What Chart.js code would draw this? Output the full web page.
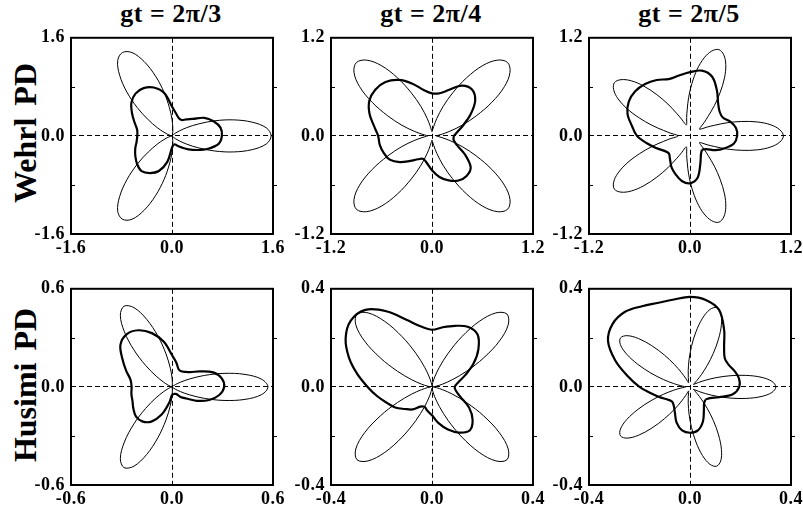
<!DOCTYPE html>
<html>
<head>
<meta charset="utf-8">
<script src="https://cdn.jsdelivr.net/npm/chart.js@4.4.1/dist/chart.umd.min.js"></script>
<style>
  body { margin: 0; background: #fff; }
  #wrap { position: relative; width: 803px; height: 518px; overflow: hidden;
          font-family: "Liberation Serif", "Times New Roman", serif; font-weight: bold; color: #000; }
  #wrap canvas { position: absolute; }
  .title { position: absolute; width: 200px; text-align: center; font-size: 26px;
           letter-spacing: 0.5px; line-height: 30px; white-space: nowrap; }
  .rowlab { position: absolute; font-size: 32px; white-space: nowrap; word-spacing: 4px;
            line-height: 34px; transform: translate(-50%, -50%) rotate(-90deg); }
</style>
</head>
<body>
<div id="wrap"></div>
<script>
// ---- labels ----
const columnTitles = ['gt = 2π/3', 'gt = 2π/4', 'gt = 2π/5'];
const rowTitles = ['Wehrl PD', 'Husimi PD'];

// ---- axis ticks ----
const ticksWehrl3 = [-1.6, 0, 1.6];   const tickLabelsWehrl3 = ['-1.6', '0.0', '1.6'];
const ticksWehrl4 = [-1.2, 0, 1.2];   const tickLabelsWehrl4 = ['-1.2', '0.0', '1.2'];
const ticksWehrl5 = [-1.2, 0, 1.2];   const tickLabelsWehrl5 = ['-1.2', '0.0', '1.2'];
const ticksHusimi3 = [-0.6, 0, 0.6];  const tickLabelsHusimi3 = ['-0.6', '0.0', '0.6'];
const ticksHusimi4 = [-0.4, 0, 0.4];  const tickLabelsHusimi4 = ['-0.4', '0.0', '0.4'];
const ticksHusimi5 = [-0.4, 0, 0.4];  const tickLabelsHusimi5 = ['-0.4', '0.0', '0.4'];

// ---- phase angles (degrees) ----
const angles5 = [0,5,10,15,20,25,30,35,40,45,50,55,60,65,70,75,80,85,90,95,100,105,110,115,
  120,125,130,135,140,145,150,155,160,165,170,175,180,185,190,195,200,205,210,215,220,225,230,235,
  240,245,250,255,260,265,270,275,280,285,290,295,300,305,310,315,320,325,330,335,340,345,350,355];
const angles4 = [0,4,8,12,16,20,24,28,32,36,40,44,48,52,56,60,64,68,72,76,80,84,88,92,96,100,
  104,108,112,116,120,124,128,132,136,140,144,148,152,156,160,164,168,172,176,180,184,188,192,196,
  200,204,208,212,216,220,224,228,232,236,240,244,248,252,256,260,264,268,272,276,280,284,288,292,
  296,300,304,308,312,316,320,324,328,332,336,340,344,348,352,356];
const angles10 = [0,10,20,30,40,50,60,70,80,90,100,110,120,130,140,150,160,170,
  180,190,200,210,220,230,240,250,260,270,280,290,300,310,320,330,340,350];

// ---- gt = 2pi/3 ----
const wehrl3Thin = [1.57,1.50,1.29,1.01,0.72,0.46,0.27,0.14,0.07,0.03,0.01,0,0,0,0.01,0.03,0.07,0.14,0.27,0.46,0.72,1.01,1.29,1.50,
  1.57,1.50,1.29,1.01,0.72,0.46,0.27,0.14,0.07,0.03,0.01,0,0,0,0.01,0.03,0.07,0.14,0.27,0.46,0.72,1.01,1.29,1.50,
  1.57,1.50,1.29,1.01,0.72,0.46,0.27,0.14,0.07,0.03,0.01,0,0,0,0.01,0.03,0.07,0.14,0.27,0.46,0.72,1.01,1.29,1.50];
const wehrl3Thick = [0.79,0.78,0.70,0.59,0.43,0.35,0.30,0.31,0.37,0.48,0.71,0.84,0.90,0.90,0.84,0.73,0.63,0.56,
  0.55,0.57,0.62,0.67,0.72,0.75,0.70,0.61,0.43,0.19,0.14,0.15,0.19,0.25,0.34,0.46,0.61,0.75];
const husimi3Thin = [0.57,0.535,0.44,0.32,0.205,0.115,0.057,0.025,0.01,0.003,0.001,0,0,0,0.001,0.003,0.01,0.025,0.057,0.115,0.205,0.32,0.44,0.535,
  0.57,0.535,0.44,0.32,0.205,0.115,0.057,0.025,0.01,0.003,0.001,0,0,0,0.001,0.003,0.01,0.025,0.057,0.115,0.205,0.32,0.44,0.535,
  0.57,0.535,0.44,0.32,0.205,0.115,0.057,0.025,0.01,0.003,0.001,0,0,0,0.001,0.003,0.01,0.025,0.057,0.115,0.205,0.32,0.44,0.535];
const husimi3Thick = [0.31,0.30,0.26,0.19,0.14,0.12,0.11,0.115,0.15,0.195,0.28,0.35,0.40,0.42,0.40,0.34,0.29,0.25,
  0.24,0.245,0.25,0.265,0.28,0.275,0.245,0.18,0.10,0.05,0.045,0.045,0.05,0.08,0.11,0.17,0.235,0.285];

// ---- gt = 2pi/4 ----
const wehrl4Thin = [0.05,0.07,0.12,0.22,0.38,0.58,0.82,1.05,1.21,1.27,1.21,1.05,0.82,0.58,0.38,0.22,0.12,0.07,
  0.05,0.07,0.12,0.22,0.38,0.58,0.82,1.05,1.21,1.27,1.21,1.05,0.82,0.58,0.38,0.22,0.12,0.07,
  0.05,0.07,0.12,0.22,0.38,0.58,0.82,1.05,1.21,1.27,1.21,1.05,0.82,0.58,0.38,0.22,0.12,0.07,
  0.05,0.07,0.12,0.22,0.38,0.58,0.82,1.05,1.21,1.27,1.21,1.05,0.82,0.58,0.38,0.22,0.12,0.07];
const wehrl4Thick = [0.26,0.31,0.40,0.53,0.67,0.74,0.71,0.60,0.53,0.52,0.57,0.68,0.79,0.86,0.88,0.86,0.79,0.70,
  0.64,0.63,0.61,0.58,0.50,0.40,0.33,0.30,0.34,0.42,0.51,0.58,0.63,0.64,0.60,0.45,0.31,0.26];
const husimi4Thin = [0.005,0.008,0.018,0.042,0.085,0.151,0.236,0.326,0.394,0.42,0.394,0.326,0.236,0.151,0.085,0.042,0.018,0.008,
  0.005,0.008,0.018,0.042,0.085,0.151,0.236,0.326,0.394,0.42,0.394,0.326,0.236,0.151,0.085,0.042,0.018,0.008,
  0.005,0.008,0.018,0.042,0.085,0.151,0.236,0.326,0.394,0.42,0.394,0.326,0.236,0.151,0.085,0.042,0.018,0.008,
  0.005,0.008,0.018,0.042,0.085,0.151,0.236,0.326,0.394,0.42,0.394,0.326,0.236,0.151,0.085,0.042,0.018,0.008];
const husimi4Thick = [0.09,0.105,0.14,0.19,0.24,0.28,0.283,0.265,0.247,0.233,0.25,0.29,0.355,0.41,0.42,0.395,0.35,0.30,
  0.255,0.22,0.19,0.168,0.14,0.12,0.093,0.085,0.10,0.116,0.15,0.185,0.215,0.232,0.21,0.17,0.12,0.097];

// ---- gt = 2pi/5 ----
const wehrl5Thin = [1.11,1.07,0.97,0.82,0.64,0.47,0.32,0.23,0.16,0.14,0.16,0.23,0.32,0.47,0.64,0.82,0.97,1.07,
  1.11,1.07,0.97,0.82,0.64,0.47,0.32,0.23,0.16,0.14,0.16,0.23,0.32,0.47,0.64,0.82,0.97,1.07,
  1.11,1.07,0.97,0.82,0.64,0.47,0.32,0.23,0.16,0.14,0.16,0.23,0.32,0.47,0.64,0.82,0.97,1.07,
  1.11,1.07,0.97,0.82,0.64,0.47,0.32,0.23,0.16,0.14,0.16,0.23,0.32,0.47,0.64,0.82,0.97,1.07,
  1.11,1.07,0.97,0.82,0.64,0.47,0.32,0.23,0.16,0.14,0.16,0.23,0.32,0.47,0.64,0.82,0.97,1.07];
const wehrl5Thick = [0.56,0.555,0.51,0.45,0.46,0.52,0.64,0.77,0.81,0.78,0.75,0.74,0.79,0.83,0.85,0.84,0.79,0.70,
  0.63,0.52,0.43,0.36,0.33,0.37,0.44,0.50,0.56,0.58,0.52,0.36,0.26,0.22,0.25,0.35,0.44,0.53];
const husimi5Thin = [0.34,0.325,0.284,0.226,0.165,0.11,0.067,0.039,0.023,0.017,0.023,0.039,0.067,0.11,0.165,0.226,0.284,0.325,
  0.34,0.325,0.284,0.226,0.165,0.11,0.067,0.039,0.023,0.017,0.023,0.039,0.067,0.11,0.165,0.226,0.284,0.325,
  0.34,0.325,0.284,0.226,0.165,0.11,0.067,0.039,0.023,0.017,0.023,0.039,0.067,0.11,0.165,0.226,0.284,0.325,
  0.34,0.325,0.284,0.226,0.165,0.11,0.067,0.039,0.023,0.017,0.023,0.039,0.067,0.11,0.165,0.226,0.284,0.325,
  0.34,0.325,0.284,0.226,0.165,0.11,0.067,0.039,0.023,0.017,0.023,0.039,0.067,0.11,0.165,0.226,0.284,0.325];
const husimi5Thick = [0.195,0.197,0.188,0.178,0.18,0.21,0.27,0.335,0.36,0.367,0.362,0.365,0.38,0.40,0.40,0.375,0.315,0.25,
  0.20,0.155,0.125,0.103,0.093,0.10,0.12,0.155,0.18,0.187,0.18,0.15,0.11,0.087,0.08,0.092,0.123,0.172];

const panels = [
  { col: 0, row: 0, ticks: ticksWehrl3,  labels: tickLabelsWehrl3,  thin: [angles5, wehrl3Thin],  thick: [angles10, wehrl3Thick] },
  { col: 1, row: 0, ticks: ticksWehrl4,  labels: tickLabelsWehrl4,  thin: [angles5, wehrl4Thin],  thick: [angles10, wehrl4Thick] },
  { col: 2, row: 0, ticks: ticksWehrl5,  labels: tickLabelsWehrl5,  thin: [angles4, wehrl5Thin],  thick: [angles10, wehrl5Thick] },
  { col: 0, row: 1, ticks: ticksHusimi3, labels: tickLabelsHusimi3, thin: [angles5, husimi3Thin], thick: [angles10, husimi3Thick] },
  { col: 1, row: 1, ticks: ticksHusimi4, labels: tickLabelsHusimi4, thin: [angles5, husimi4Thin], thick: [angles10, husimi4Thick] },
  { col: 2, row: 1, ticks: ticksHusimi5, labels: tickLabelsHusimi5, thin: [angles4, husimi5Thin], thick: [angles10, husimi5Thick] },
];

// ---- layout ----
const colLeft = [71, 331, 589];
const rowTop  = [33, 284];
const colCenter = [171, 431, 689];
const rowCenter = [133, 385];
const PW = 202, PH = 201;
const AX_W = 60, AX_H = 30, PAD_T = 12, PAD_R = 18;

// polar samples -> closed x/y path, starting at the smallest radius
function polarPoints(angles, radii) {
  let k = 0;
  radii.forEach((r, i) => { if (r < radii[k]) k = i; });
  const pts = [];
  for (let j = 0; j <= radii.length; j++) {
    const i = (k + j) % radii.length;
    const t = angles[i] * Math.PI / 180;
    pts.push({ x: radii[i] * Math.cos(t), y: radii[i] * Math.sin(t) });
  }
  return pts;
}

// box frame + short ticks at half range on left/right edges
const framePlugin = {
  id: 'frame',
  beforeDraw(chart) { chart.ctx.letterSpacing = '0.5px'; },
  afterDraw(chart) {
    const { ctx, chartArea: a, scales: { y } } = chart;
    const half = chart.options.plugins.frame.half;
    ctx.save();
    ctx.strokeStyle = '#000';
    ctx.lineWidth = 2;
    ctx.strokeRect(a.left, a.top, a.right - a.left, a.bottom - a.top);
    ctx.lineWidth = 1;
    ctx.beginPath();
    for (const v of [-half, half]) {
      const py = Math.round(y.getPixelForValue(v)) + 0.5;
      ctx.moveTo(a.left, py);  ctx.lineTo(a.left + 4, py);
      ctx.moveTo(a.right, py); ctx.lineTo(a.right + 4, py);
    }
    ctx.stroke();
    ctx.restore();
  }
};

const wrap = document.getElementById('wrap');
const tickFont = { family: 'Liberation Serif', size: 18, weight: 'bold' };

columnTitles.forEach((t, c) => {
  const d = document.createElement('div');
  d.className = 'title';
  d.textContent = t;
  d.style.left = (colCenter[c] - 100) + 'px';
  d.style.top = '-1px';
  wrap.appendChild(d);
});
rowTitles.forEach((t, r) => {
  const d = document.createElement('div');
  d.className = 'rowlab';
  d.textContent = t;
  d.style.left = '25px';
  d.style.top = rowCenter[r] + 'px';
  wrap.appendChild(d);
});

panels.forEach(p => {
  const cv = document.createElement('canvas');
  const w = AX_W + PW + PAD_R, h = PAD_T + PH + AX_H;
  cv.width = w; cv.height = h;
  cv.style.left = (colLeft[p.col] - AX_W) + 'px';
  cv.style.top = (rowTop[p.row] - PAD_T) + 'px';
  wrap.appendChild(cv);

  const axis = (fitFn) => ({
    type: 'linear',
    min: p.ticks[0], max: p.ticks[p.ticks.length - 1],
    afterBuildTicks: s => { s.ticks = p.ticks.map(v => ({ value: v })); },
    afterFit: fitFn,
    grid: {
      drawTicks: false,
      lineWidth: 1,
      color: c => (c.tick && c.tick.value === 0) ? '#000' : 'rgba(0,0,0,0)'
    },
    border: { display: false, dash: [5, 3] },
    ticks: {
      callback: (v, i) => p.labels[i],
      font: tickFont, color: '#000', padding: 4,
      maxRotation: 0, autoSkip: false
    }
  });

  const x = axis(s => { s.height = AX_H; });
  const y = axis(s => { s.width = AX_W; });
  y.ticks.padding = 6;

  new Chart(cv, {
    type: 'scatter',
    data: {
      datasets: [
        { data: polarPoints(...p.thin), showLine: true, borderColor: '#000', borderWidth: 1,
          pointRadius: 0, tension: 0.35, fill: false },
        { data: polarPoints(...p.thick), showLine: true, borderColor: '#000', borderWidth: 2.2,
          pointRadius: 0, tension: 0.35, fill: false }
      ]
    },
    options: {
      responsive: false, animation: false, devicePixelRatio: 1,
      layout: { padding: { top: PAD_T, right: PAD_R, left: 0, bottom: 0 } },
      plugins: { legend: { display: false }, tooltip: { enabled: false },
                 frame: { half: p.ticks[p.ticks.length - 1] / 2 } },
      scales: { x, y }
    },
    plugins: [framePlugin]
  });
});
</script>
</body>
</html>
